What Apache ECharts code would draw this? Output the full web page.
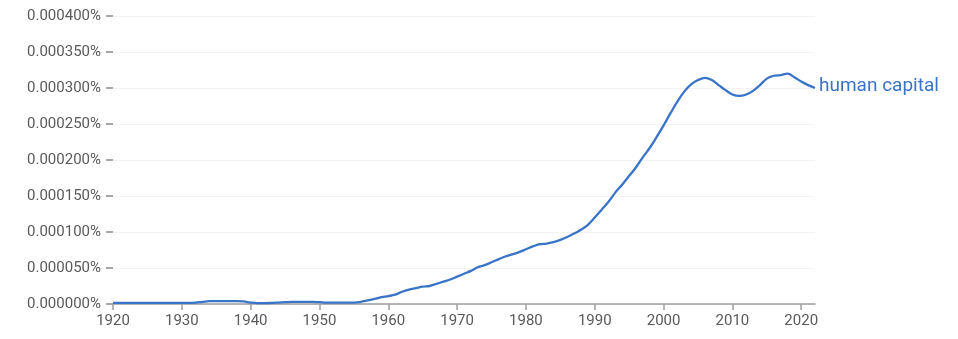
<!DOCTYPE html>
<html>
<head>
<meta charset="utf-8">
<script src="https://cdn.jsdelivr.net/npm/echarts@6/dist/echarts.min.js"></script>
<style>html,body{margin:0;padding:0;background:#fff;}#c{width:958px;height:339px;}</style>
</head>
<body>
<div id="c"></div>
<script>
const seriesName = 'human capital';
const startYear = 1920;
// values in percent
const values = [
  0.0000015,0.0000015,0.0000015,0.0000015,0.0000015,0.0000015,0.0000015,0.0000015,0.0000015,0.0000015, // 1920-1929
  0.0000015,0.0000015,0.0000018,0.000003,0.000004,0.000004,0.000004,0.000004,0.000004,0.0000035, // 1930-1939
  0.000002,0.0000012,0.0000012,0.0000015,0.000002,0.0000025,0.000003,0.000003,0.000003,0.000003, // 1940-1949
  0.0000025,0.000002,0.0000018,0.0000018,0.0000018,0.000002,0.000003,0.000005,0.000007,0.0000095, // 1950-1959
  0.000011,0.000013,0.000017,0.00002,0.000022,0.000024,0.000025,0.000028,0.000031,0.000034, // 1960-1969
  0.000038,0.000042,0.000046,0.000051,0.000054,0.000058,0.000062,0.000066,0.000069,0.000072, // 1970-1979
  0.000076,0.00008,0.000083,0.000084,0.000086,0.000089,0.000093,0.000098,0.000103,0.00011, // 1980-1989
  0.00012,0.000131,0.000142,0.000155,0.000166,0.000178,0.00019,0.000204,0.000217,0.000232, // 1990-1999
  0.000248,0.000265,0.000281,0.000295,0.000305,0.000311,0.000314,0.000311,0.000304,0.000297, // 2000-2009
  0.000291,0.000289,0.000291,0.000296,0.000304,0.000313,0.000317,0.000318,0.00032,0.000315, // 2010-2019
  0.000309,0.000304,0.0003 // 2020-2022
];
const yRange = [0, 0.0004];
const xRange = [1920, 2022];

const data = values.map((v, i) => [startYear + i, v]);
const chart = echarts.init(document.getElementById('c'), null, {renderer: 'canvas'});
chart.setOption({
  animation: false,
  grid: {left: 113, right: 143, top: 16, bottom: 35, containLabel: false},
  xAxis: {
    type: 'value', min: xRange[0], max: xRange[1], interval: 10,
    axisLine: {show: true, lineStyle: {color: '#9e9e9e', width: 1.5}},
    axisTick: {show: true, length: 6, lineStyle: {color: '#9e9e9e', width: 1.5}},
    axisLabel: {color: '#5a5a5a', fontFamily: 'Roboto', fontSize: 15, margin: 10,
      formatter: v => String(v), showMaxLabel: false},
    splitLine: {show: false}
  },
  yAxis: {
    type: 'value', min: yRange[0], max: yRange[1], interval: 0.00005,
    axisLine: {show: false},
    axisTick: {show: true, length: 7, lineStyle: {color: '#8a8a8a', width: 1.5}},
    axisLabel: {color: '#5a5a5a', fontFamily: 'Roboto', fontSize: 15, margin: 12,
      formatter: v => v.toFixed(6) + '%'},
    splitLine: {show: true, lineStyle: {color: '#f2f2f2', width: 1}}
  },
  series: [{
    name: seriesName, type: 'line', data: data, smooth: 0.4, showSymbol: false,
    lineStyle: {color: '#3a74c8', width: 2.3},
    itemStyle: {color: '#3a74c8'},
    endLabel: {show: true, formatter: seriesName, color: '#3a74c8', fontFamily: 'Roboto', fontSize: 19, distance: 4, offset: [0, -2]}
  }]
});
</script>
</body>
</html>
